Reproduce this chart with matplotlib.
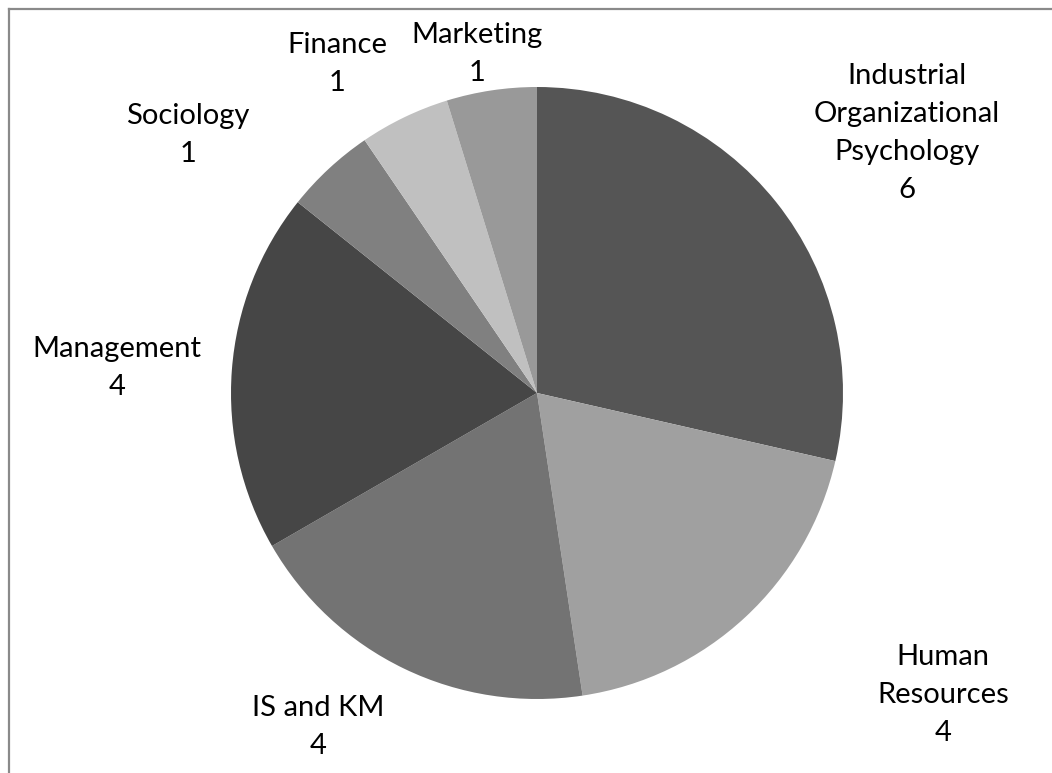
import matplotlib.pyplot as plt
from matplotlib.lines import Line2D

# data
labels = ['Industrial\nOrganizational\nPsychology', 'Human\nResources', 'IS and KM',
          'Management', 'Sociology', 'Finance', 'Marketing']
counts = [6, 4, 4, 4, 1, 1, 1]
colors = ['#555555', '#a0a0a0', '#737373', '#464646', '#808080', '#c0c0c0', '#999999']

# label centres in pixels (layout only)
label_px = [(907, 133), (943, 695), (318, 727), (117, 368), (188, 135), (337, 64), (477, 54)]

W, H = 1052, 773
cx, cy, R = 537, 393, 306

plt.rcParams['font.family'] = ['Lato', 'DejaVu Sans']
fig = plt.figure(figsize=(W / 100, H / 100), dpi=100)
ax = fig.add_axes([0, 0, 1, 1])
ax.pie(counts, colors=colors, startangle=90, counterclock=False, radius=1,
       wedgeprops=dict(linewidth=0))
ax.set_xlim((0 - cx) / R, (W - cx) / R)
ax.set_ylim((cy - H) / R, cy / R)
ax.set_aspect('auto')
ax.axis('off')

for lab, n, (px, py) in zip(labels, counts, label_px):
    ax.text((px - cx) / R, (cy - py) / R, f'{lab}\n{n}', ha='center', va='center',
            fontsize=21, linespacing=1.56, color='black')

# chart frame (top and left edges visible)
fig.add_artist(Line2D([8.5 / W, 8.5 / W], [0, 1 - 8.5 / H], transform=fig.transFigure,
                      color='#8a8a8a', lw=1.6))
fig.add_artist(Line2D([8.5 / W, 1], [1 - 8.5 / H, 1 - 8.5 / H], transform=fig.transFigure,
                      color='#8a8a8a', lw=1.6))

fig.savefig('out.png', dpi=100)
